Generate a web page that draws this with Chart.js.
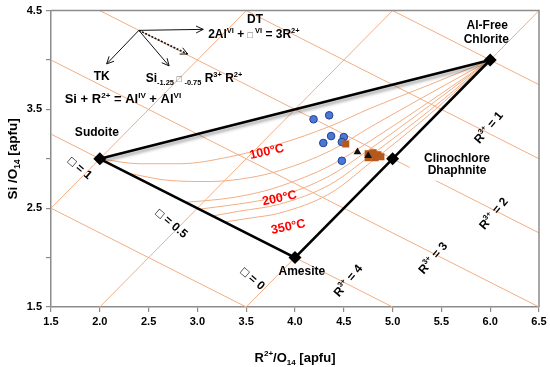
<!DOCTYPE html>
<html><head><meta charset="utf-8">
<script src="https://cdn.jsdelivr.net/npm/chart.js@4.4.0/dist/chart.umd.min.js"></script>
<style>html,body{margin:0;padding:0;background:#fff;}canvas{display:block;}</style>
</head><body>
<canvas id="c" width="550" height="367"></canvas>
<script>
// ---------------- data ----------------
const yTickLabels = [1.5, 2.5, 3.5, 4.5];

const endMemberNames = ['Sudoite', 'Al-Free Chlorite', 'Clinochlore', 'Amesite'];
const endMemberR2 = [2, 6, 5, 4];
const endMemberSi = [3, 4, 3, 2];

// lines of constant R3+ (endpoints on the frame)
const r3Values = [0, 1, 2, 3, 4, 5];
const r3LineX = [[5.0, 6.5], [3.5, 6.5], [2.0, 6.5], [1.5, 6.5], [1.5, 5.0], [1.5, 3.5]];
const r3LineY = [[4.5, 3.75], [4.5, 3.0], [4.5, 2.25], [4.0, 1.5], [3.25, 1.5], [2.5, 1.5]];
// lines of constant octahedral vacancy
const vacValues = [0, 0.5, 1];
const vacLineX = [[3.5, 6.5], [2.0, 5.0], [1.5, 3.5]];
const vacLineY = [[1.5, 4.5], [1.5, 4.5], [2.5, 4.5]];

// isotherms
const isoTemps = [100, 150, 200, 250, 300, 350];
const isoX = [
  [2.00, 2.41, 2.82, 3.33, 3.84, 4.36, 4.77, 5.38, 6.00],
  [2.31, 2.72, 3.13, 3.54, 3.84, 4.36, 4.77, 5.38, 6.00],
  [2.87, 3.23, 3.54, 3.84, 4.36, 4.77, 5.38, 6.00],
  [3.02, 3.33, 3.54, 3.84, 4.36, 4.77, 5.38, 6.00],
  [3.15, 3.43, 3.84, 4.36, 4.77, 5.38, 6.00],
  [3.28, 3.54, 3.84, 4.36, 4.77, 5.38, 6.00]
];
const isoY = [
  [3.00, 2.95, 2.95, 3.02, 3.15, 3.33, 3.51, 3.75, 4.00],
  [2.85, 2.78, 2.77, 2.81, 2.88, 3.08, 3.32, 3.66, 4.00],
  [2.56, 2.59, 2.64, 2.72, 2.93, 3.18, 3.58, 4.00],
  [2.49, 2.53, 2.56, 2.62, 2.83, 3.10, 3.54, 4.00],
  [2.42, 2.47, 2.54, 2.74, 3.03, 3.49, 4.00],
  [2.36, 2.40, 2.45, 2.65, 2.96, 3.45, 4.00]
];

// samples
const blueR2 = [4.19, 4.35, 4.37, 4.50, 4.29, 4.48, 4.48];
const blueSi = [3.40, 3.44, 3.23, 3.22, 3.16, 3.17, 2.98];
const brownR2 = [4.52, 4.75, 4.80, 4.85, 4.75, 4.82, 4.88];
const brownSi = [3.15, 3.05, 3.06, 3.04, 3.01, 3.01, 3.02];
const triR2 = [4.64, 4.75];
const triSi = [3.07, 3.03];

// ---------------- build ----------------
const FAM = '"Liberation Sans", Arial, sans-serif';
const ORANGE = '#F2AE84';
const pts = (xs, ys) => xs.map((x, i) => ({x: x, y: ys[i]}));

const datasets = [];
r3LineX.forEach((xs, i) => datasets.push({label: 'R3+=' + r3Values[i], data: pts(xs, r3LineY[i]),
  showLine: true, borderColor: ORANGE, borderWidth: 1, pointRadius: 0, order: 10}));
vacLineX.forEach((xs, i) => datasets.push({label: 'vac=' + vacValues[i], data: pts(xs, vacLineY[i]),
  showLine: true, borderColor: ORANGE, borderWidth: 1, pointRadius: 0, order: 10}));
isoX.forEach((xs, i) => datasets.push({label: isoTemps[i] + '°C', data: pts(xs, isoY[i]),
  showLine: true, borderColor: ORANGE, borderWidth: 1, pointRadius: 0, cubicInterpolationMode: 'monotone', order: 9}));

const ord = [1, 2, 3, 0];
datasets.push({label: 'upperEdge', data: pts([endMemberR2[0], endMemberR2[1]], [endMemberSi[0], endMemberSi[1]]),
  showLine: true, borderColor: '#000', borderWidth: 2.6, pointRadius: 0, order: 5});
datasets.push({label: 'edges', data: pts(ord.map(i => endMemberR2[i]), ord.map(i => endMemberSi[i])),
  showLine: true, borderColor: '#000', borderWidth: 2.6, pointRadius: 0, order: 5});
datasets.push({label: 'endMembers', data: pts(endMemberR2, endMemberSi), showLine: false,
  pointStyle: 'rectRot', pointRadius: 6.5, backgroundColor: '#000', borderColor: '#000', borderWidth: 0, order: 4});
datasets.push({label: 'blue', data: pts(blueR2, blueSi), showLine: false, pointStyle: 'circle',
  pointRadius: 3.8, backgroundColor: '#4A78D9', borderColor: '#23408F', borderWidth: 1, order: 3});
datasets.push({label: 'brown', data: pts(brownR2, brownSi), showLine: false, pointStyle: 'rect',
  pointRadius: 5, backgroundColor: '#B5581C', borderColor: '#B5581C', borderWidth: 0, order: 2});
datasets.push({label: 'tri', data: pts(triR2, triSi), showLine: false, pointStyle: 'triangle',
  pointRadius: 4.5, backgroundColor: '#111', borderColor: '#111', borderWidth: 0, order: 1});

// ---------------- annotations ----------------
const BOX = '\u25A1';
const labels = [
  {s: [['DT', 0]], x: 3.59, y: 4.42},
  {s: [['2Al', 0], ['VI', 1], [' + ', 0], [BOX, 3], [' VI', 1], [' = 3R', 0], ['2+', 1]], x: 3.11, y: 4.27, align: 'left'},
  {s: [['TK', 0]], x: 2.02, y: 3.84},
  {s: [['Si', 0], ['-1.25', 2], [' ' + BOX + ' ', 3], ['-0.75', 2], [' R', 0], ['3+', 1], [' R', 0], ['2+', 1]], x: 2.47, y: 3.82, align: 'left'},
  {s: [['Si + R', 0], ['2+', 1], [' = Al', 0], ['IV', 1], [' + Al', 0], ['VI', 1]], x: 1.64, y: 3.61, align: 'left', size: 13},
  {s: [['Sudoite', 0]], x: 1.97, y: 3.27},
  {s: [['Al-Free', 0]], x: 5.97, y: 4.36},
  {s: [['Chlorite', 0]], x: 5.96, y: 4.22},
  {s: [['Clinochlore', 0]], x: 5.66, y: 3.01, bg: [14, 5]},
  {s: [['Dhaphnite', 0]], x: 5.66, y: 2.89, bg: [18, 5]},
  {s: [['Amesite', 0]], x: 4.07, y: 1.87},
  {s: [['R', 0], ['3+', 1], [' = 1', 0]], x: 5.98, y: 3.32, rot: -50},
  {s: [['R', 0], ['3+', 1], [' = 2', 0]], x: 6.03, y: 2.45, rot: -50},
  {s: [['R', 0], ['3+', 1], [' = 3', 0]], x: 5.41, y: 2.00, rot: -50},
  {s: [['R', 0], ['3+', 1], [' = 4', 0]], x: 4.54, y: 1.77, rot: -50},
  {s: [[BOX, 0], [' = 1', 0]], x: 1.80, y: 2.91, rot: 40},
  {s: [[BOX, 0], [' = 0.5', 0]], x: 2.74, y: 2.35, rot: 40},
  {s: [[BOX, 0], [' = 0', 0]], x: 3.57, y: 1.79, rot: 40},
  {s: [['100°C', 0]], x: 3.71, y: 3.08, rot: -12, color: '#FF0000', size: 12.5},
  {s: [['200°C', 0]], x: 3.84, y: 2.61, rot: -12, color: '#FF0000', size: 12.5},
  {s: [['350°C', 0]], x: 3.93, y: 2.32, rot: -12, color: '#FF0000', size: 12.5}
];
const arrows = [
  {x0: 2.40, y0: 4.30, x1: 3.06, y1: 4.31},
  {x0: 2.40, y0: 4.30, x1: 2.07, y1: 3.96},
  {x0: 2.40, y0: 4.30, x1: 2.71, y1: 3.94},
  {x0: 2.40, y0: 4.30, x1: 2.90, y1: 4.06, dash: true}
];

function segFont(m, size) {
  const s = m === 0 ? size : (m === 3 ? size * 0.75 : size * 0.62);
  return 'bold ' + s + 'px ' + FAM;
}
// pass 'bg' draws only the white background box, pass 'text' draws only the text
function drawRich(ctx, segs, px, py, o, pass) {
  const size = o.size || 12;
  ctx.save();
  ctx.translate(px, py);
  if (o.rot) ctx.rotate(o.rot * Math.PI / 180);
  let w = 0;
  for (const [t, m] of segs) { ctx.font = segFont(m, size); w += ctx.measureText(t).width; }
  let x = o.align === 'left' ? 0 : -w / 2;
  if (pass === 'bg') {
    if (o.bg) { ctx.fillStyle = '#fff'; ctx.fillRect(x - o.bg[0], -size / 2 - o.bg[1], w + 2 * o.bg[0], size + 2 * o.bg[1]); }
    ctx.restore();
    return;
  }
  ctx.textAlign = 'left'; ctx.textBaseline = 'alphabetic';
  const base = size * 0.36;
  for (const [t, m] of segs) {
    ctx.font = segFont(m, size);
    ctx.fillStyle = m === 3 ? '#666' : (o.color || '#000');
    const dy = m === 1 ? -size * 0.42 : (m === 2 ? size * 0.24 : 0);
    ctx.fillText(t, x, base + dy);
    x += ctx.measureText(t).width;
  }
  ctx.restore();
}
function drawArrow(ctx, x0, y0, x1, y1, dash) {
  ctx.save();
  ctx.strokeStyle = '#111';
  ctx.lineWidth = dash ? 1.6 : 1;
  if (dash) ctx.setLineDash([2, 1.5]);
  ctx.beginPath(); ctx.moveTo(x0, y0); ctx.lineTo(x1, y1); ctx.stroke();
  ctx.setLineDash([]); ctx.lineWidth = 1;
  const a = Math.atan2(y1 - y0, x1 - x0), L = 8, sp = 0.45;
  ctx.beginPath();
  ctx.moveTo(x1 - L * Math.cos(a - sp), y1 - L * Math.sin(a - sp));
  ctx.lineTo(x1, y1);
  ctx.lineTo(x1 - L * Math.cos(a + sp), y1 - L * Math.sin(a + sp));
  ctx.stroke();
  ctx.restore();
}

const annotPlugin = {
  id: 'annot',
  beforeDatasetDraw(chart, args) {
    if (chart.data.datasets[args.index].label === 'upperEdge') {
      const ctx = chart.ctx; ctx.save();
      ctx.shadowColor = 'rgba(0,0,0,0.35)'; ctx.shadowOffsetY = 3; ctx.shadowBlur = 3;
    }
  },
  afterDatasetDraw(chart, args) {
    if (chart.data.datasets[args.index].label === 'upperEdge') chart.ctx.restore();
  },
  afterDatasetsDraw(chart) {
    const ctx = chart.ctx, xs = chart.scales.x, ys = chart.scales.y;
    for (const a of arrows) drawArrow(ctx, xs.getPixelForValue(a.x0), ys.getPixelForValue(a.y0),
      xs.getPixelForValue(a.x1), ys.getPixelForValue(a.y1), a.dash);
    for (const l of labels) drawRich(ctx, l.s, xs.getPixelForValue(l.x), ys.getPixelForValue(l.y), l, 'bg');
    for (const l of labels) drawRich(ctx, l.s, xs.getPixelForValue(l.x), ys.getPixelForValue(l.y), l, 'text');
  },
  afterDraw(chart) {
    const ctx = chart.ctx, ca = chart.chartArea;
    ctx.save();
    ctx.strokeStyle = '#8c8c8c'; ctx.lineWidth = 1.5;
    ctx.beginPath();
    ctx.moveTo(ca.left, ca.top); ctx.lineTo(ca.right, ca.top); ctx.lineTo(ca.right, ca.bottom);
    ctx.stroke();
    ctx.restore();
    drawRich(ctx, [['R', 0], ['2+', 1], ['/O', 0], ['14', 2], [' [apfu]', 0]], (ca.left + ca.right) / 2, 357, {size: 13}, 'text');
    drawRich(ctx, [['Si /O', 0], ['14', 2], [' [apfu]', 0]], 12, (ca.top + ca.bottom) / 2, {size: 13.5, rot: -90}, 'text');
  }
};

const axisCommon = {
  type: 'linear',
  grid: {drawOnChartArea: false, drawTicks: true, tickLength: 5, color: '#8c8c8c', lineWidth: 1.2},
  border: {color: '#8c8c8c', width: 1.5},
  title: {display: false}
};

new Chart(document.getElementById('c'), {
  type: 'scatter',
  data: {datasets: datasets},
  options: {
    responsive: false, animation: false, devicePixelRatio: 1,
    layout: {padding: {top: 9, right: 11, left: 0, bottom: 0}},
    plugins: {legend: {display: false}, tooltip: {enabled: false}},
    scales: {
      x: Object.assign({}, axisCommon, {
        min: 1.5, max: 6.5,
        ticks: {stepSize: 0.5, color: '#000', font: {family: FAM, weight: 'bold', size: 11}, padding: 3, maxRotation: 0},
        afterFit: s => { s.height = 60; }
      }),
      y: Object.assign({}, axisCommon, {
        min: 1.5, max: 4.5,
        ticks: {stepSize: 0.5, color: '#000', font: {family: FAM, weight: 'bold', size: 11}, padding: 4,
          callback: v => (yTickLabels.indexOf(v) >= 0 ? String(v) : '')},
        afterFit: s => { s.width = 51; }
      })
    }
  },
  plugins: [annotPlugin]
});
</script>
</body></html>
